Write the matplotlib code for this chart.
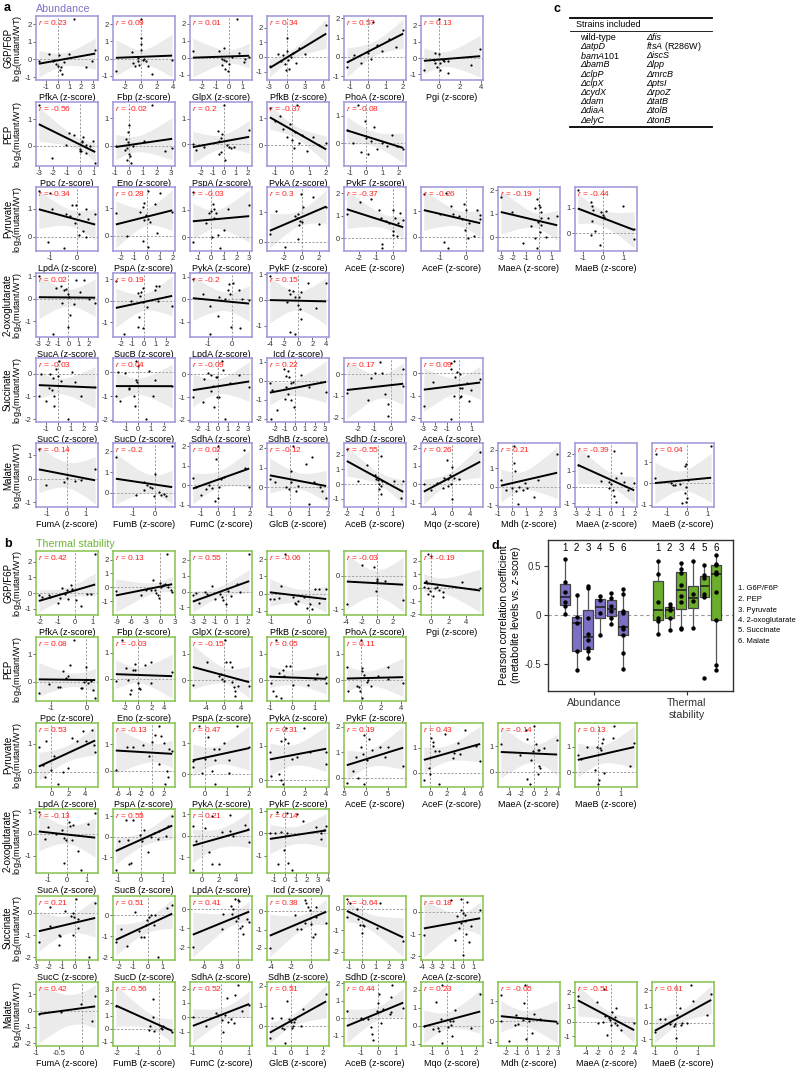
import numpy as np
import matplotlib
matplotlib.use('Agg')
import matplotlib.pyplot as plt

plt.rcParams['font.family'] = ['Liberation Sans', 'DejaVu Sans']
plt.rcParams['mathtext.fontset'] = 'custom'
plt.rcParams['mathtext.rm'] = 'Liberation Sans'
plt.rcParams['mathtext.it'] = 'Liberation Sans:italic'
plt.rcParams['mathtext.bf'] = 'Liberation Sans:bold'
plt.rcParams['axes.unicode_minus'] = False

# ---------------- data ----------------
metabolites = ['G6P/F6P', 'PEP', 'Pyruvate', '2-oxoglutarate', 'Succinate', 'Malate']

# ===== a: Abundance =====
A_G6P_names = ['PfkA', 'Fbp', 'GlpX', 'PfkB', 'PhoA', 'Pgi']
A_G6P_r = [0.23, 0.09, 0.01, 0.34, 0.57, 0.13]
A_G6P_x = [
    [1.4, -0.75, -1.6, -0.3, -0.1, 0.1, 0.2, 0.4, 0.3, 0.55, 1.0, 2.4, 2.9, 3.2, -0.4, 0.0],
    [0.0, -3.2, -1.1, -1.0, -0.8, -0.4, -0.25, 0.0, 0.0, 0.0, 0.2, 0.6, 0.85, 1.4, 0.4, 3.9, -0.4],
    [-2.7, 0.6, -0.75, -0.4, -0.55, -0.4, -0.25, -0.55, -0.3, -0.05, 0.0, 0.75, 1.2, 1.1, 1.5, 0.2],
    [-2.8, -1.5, -1.0, -0.6, -0.3, 0.0, 0.2, 0.4, 0.7, 1.0, 1.5, 2.0, 3.0, 6.5, 0.1, -0.2],
    [-1.2, -0.8, -0.4, 0.0, 0.2, 0.5, 0.8, 1.2, 1.6, 2.0, 0.3],
    [0.0, -1.4, -0.3, 0.05, -0.3, -0.15, 0.1, 0.15, 0.55, 0.85, 0.9, 3.1, 3.95, 0.45, -0.45],
]
A_G6P_y = [
    [2.3, 0.3, -0.1, -0.05, -0.25, 0.28, -0.6, -0.8, -0.45, -0.15, 0.3, -0.45, -0.1, 0.55, -0.1, -0.35],
    [2.3, -0.7, 0.4, -0.25, -0.45, -0.15, -0.35, 1.2, 0.85, 0.5, -0.05, -0.15, -0.45, -0.9, 0.0, -0.05, 0.05],
    [0.4, 2.3, 0.4, 0.6, -0.05, -0.15, -0.2, -0.45, -0.65, -0.8, -0.35, 0.3, -0.05, -0.25, 0.05, 0.05],
    [-0.6, 0.2, -0.3, 0.1, -0.5, 0.4, -0.2, -0.8, 0.0, 0.3, -0.4, 0.6, 0.2, 2.2, 1.3, -0.9],
    [-0.5, 0.1, -0.3, 0.2, -0.1, 0.6, 0.3, 0.9, 0.5, 1.4, 1.8],
    [2.4, -0.75, 0.3, 0.25, -0.3, -0.55, -0.3, -0.7, -0.2, -0.15, -0.9, -0.4, 0.55, -0.1, -0.1],
]

A_PEP_names = ['Ppc', 'Eno', 'PspA', 'PykA', 'PykF']
A_PEP_r = [-0.56, -0.02, 0.2, -0.37, -0.08]
A_PEP_x = [
    [-3.05, -2.1, -1.05, -0.8, -0.45, -0.05, 0.0, 0.05, 0.1, 0.2, 0.4, 0.45, 0.75, 1.1, 0.95, 0.15],
    [1.65, 0.0, -0.1, -0.25, -0.05, -0.12, 0.0, 0.1, -0.15, 0.15, -0.3, 1.05, 2.55, 3.1, -0.95, 0.25],
    [0.0, -0.55, -0.2, -0.3, -0.45, 0.2, 0.45, 0.55, 0.85, -0.25, 0.05, -0.45, 2.15, -1.7, -2.7, -2.4],
    [-1.3, -1.0, -0.7, -0.5, -0.3, -0.1, 0.0, 0.1, 0.2, 0.4, 0.6, 0.9, 1.2, 1.6, 2.0, 0.3],
    [-1.2, -0.8, -0.5, -0.3, 0.0, 0.1, 0.3, 0.5, 0.7, 1.0, 1.3, 1.6, 1.9, 2.3, -0.1],
]
A_PEP_y = [
    [1.55, -0.45, 0.05, 0.5, 0.4, -0.2, -0.1, -0.2, 0.15, 0.35, 0.05, -0.25, 0.0, -0.65, 0.2, 0.2],
    [1.5, 0.75, 0.5, 0.25, 0.12, -0.1, -0.3, -0.4, -0.55, -0.65, -0.15, 0.17, -0.22, -0.1, -0.03, 0.0],
    [1.55, 0.5, 0.38, 0.22, 0.12, -0.03, -0.1, -0.15, -0.1, -0.3, -0.65, -0.4, 0.55, -0.1, 0.0, -0.22],
    [1.4, 0.9, 1.1, 0.6, 0.3, 0.8, 0.2, -0.1, 0.5, 0.1, 0.4, -0.2, 0.3, 0.0, 0.1, 1.5],
    [0.5, 0.0, 1.4, -0.3, 0.2, -0.4, 0.1, 0.6, -0.2, 0.0, -0.1, 0.3, -0.1, -0.2, 0.8],
]

A_PYR_names = ['LpdA', 'PspA', 'PykA', 'PykF', 'AceE', 'AceF', 'MaeA', 'MaeB']
A_PYR_r = [-0.34, 0.28, -0.03, 0.3, -0.37, -0.26, -0.19, -0.44]
A_PYR_x = [
    [-1.0, -0.9, -0.18, -0.02, 0.06, -0.4, -0.24, -0.08, 0.32, 0.39, 0.67, 0.08, 0.24, 0.32, -1.05, -0.47, -1.4],
    [0.1, 1.0, -2.4, -1.5, -0.5, -0.3, -0.2, -0.05, 0.1, 0.2, -0.2, 0.65, 0.8, -0.3, 0.08, 1.95],
    [-1.45, 0.13, 0.26, 0.0, -0.2, 0.4, -0.4, 0.26, 0.53, 1.05, 1.3, -1.4, 0.66, 3.0, 0.05],
    [-2.9, -3.6, -1.9, -0.75, -0.57, -0.4, -0.2, 0.0, -0.1, 0.2, -0.45, 1.3, 2.0, 2.8, -0.25],
    [-2.7, -1.95, -1.3, -0.8, -0.7, -0.36, -0.23, 0.05, 0.15, 0.35, 0.45, 0.02, 0.05, 0.25, -0.6, -0.6, 0.63],
    [-1.6, -0.76, -0.58, -1.0, -0.5, -0.28, -0.14, -0.07, 0.0, 0.1, -0.03, 0.07, 0.3, 0.53, 0.53, 0.4, -0.83, -0.7],
    [-3.0, -2.15, -1.25, -0.63, -0.3, -0.13, 0.0, 0.08, 0.2, 0.16, -0.05, 0.08, -0.26, 0.6, 0.74, 1.47, -0.13, 0.2],
    [-1.25, -0.6, -0.57, -0.49, -0.57, -0.41, -0.6, -0.16, -0.08, 0.0, 0.16, 0.05, 0.98, 1.54, 1.54],
]
A_PYR_y = [
    [1.55, 0.98, 1.12, 1.15, 0.83, 0.83, 0.74, 0.48, 0.98, 0.64, 0.8, 0.08, 0.2, 0.0, -0.2, -0.4, 1.63],
    [1.63, 1.55, 0.83, -0.01, 0.88, 1.04, 1.2, 0.74, 0.6, 0.5, 0.56, 1.15, 0.12, -0.2, -0.4, 0.86],
    [1.65, 1.2, 1.04, 0.95, 0.88, 0.86, 0.5, 0.68, 0.08, 0.26, 1.04, -0.19, -0.4, 1.18, 0.0],
    [1.04, 0.26, -0.19, 0.88, 0.8, 0.95, 0.7, 0.68, 1.6, 1.18, 0.08, 1.5, 0.6, 1.18, 0.56],
    [1.05, 1.6, 1.75, 1.24, 0.9, 0.75, 0.67, 1.24, 0.9, 0.67, 1.1, 0.3, 0.15, 0.07, -0.25, -0.45, 0.82],
    [1.65, 1.7, 1.22, 0.91, 0.91, 0.8, 0.68, 1.26, 1.06, 0.55, 0.26, -0.04, 0.05, 0.87, 0.68, 1.06, -0.2, -0.43],
    [1.7, 1.08, -0.24, 0.5, 1.24, 1.62, 1.38, 1.27, 1.08, 0.84, 0.64, 0.23, -0.04, 0.03, 0.84, 0.9, -0.45, 0.54],
    [1.7, 1.23, 1.08, 0.91, 0.47, 0.09, -0.06, -0.44, 0.82, 0.72, 0.87, 0.66, 1.08, 0.19, -0.23],
]

A_OXO_names = ['SucA', 'SucB', 'LpdA', 'Icd']
A_OXO_r = [0.02, 0.19, -0.2, 0.15]
A_OXO_x = [
    [-2.97, -1.23, -0.73, -0.4, -0.23, -0.07, 0.1, -0.63, 0.6, 0.77, 1.17, 1.6, 2.03, 2.7, 0.17, -0.07, -1.57],
    [-2.45, -1.1, -0.53, -0.23, -0.3, -0.09, 0.26, -0.09, 1.09, 1.3, 1.0, 1.23, 2.5, -0.38, -0.53, -0.09, -1.77],
    [-1.67, -1.24, -0.91, -0.53, -0.29, -0.17, -0.06, -0.1, 0.06, 0.33, 0.47, 0.76, -0.57, -0.03, 0.37, -0.91],
    [-4.1, -1.33, -1.15, -0.71, -0.44, 0.09, 0.31, 0.0, 0.18, 1.33, 2.53, 4.0, 0.31, -1.15, -0.44, -1.69],
]
A_OXO_y = [
    [1.0, 0.49, 0.59, 0.4, 0.44, 0.22, 0.1, -0.19, -0.22, 0.84, 0.3, 0.84, 0.0, -0.19, -0.7, -1.26, -1.56],
    [0.9, 0.0, 0.37, 0.4, 0.22, -0.07, -0.3, 0.59, 0.7, 0.7, 0.49, -0.04, -0.25, -0.74, -1.23, -1.26, -1.56],
    [0.93, 0.25, -0.3, 0.1, 0.0, 0.4, 0.25, 0.7, 0.74, 0.4, 0.0, -0.04, -0.74, -1.26, -1.29, -1.56],
    [0.93, 0.4, 0.22, 0.34, 0.1, 0.1, 0.3, -0.19, -0.34, 0.67, -0.3, 0.64, -0.74, -1.26, -1.33, -0.07],
]

A_SUC_names = ['SucC', 'SucD', 'SdhA', 'SdhB', 'SdhD', 'AceA']
A_SUC_r = [-0.03, 0.04, -0.09, 0.22, 0.17, 0.09]
A_SUC_x = [
    [-1.58, -1.39, -0.68, -0.47, -0.16, 0.0, 0.18, 0.05, -0.74, -1.0, -0.53, -0.34, -0.34, 1.05, 1.32, 1.84, 0.79, 2.95],
    [-1.77, -1.56, -1.03, -0.77, -0.72, -0.33, -0.2, -0.08, -0.15, -0.03, 0.82, 1.28, 1.13, 0.62, -0.26, -1.44, 2.67],
    [-2.5, -1.5, -1.42, -0.97, -0.71, -0.45, -0.65, -0.23, -0.06, -0.13, 0.1, -0.39, 0.52, 0.42, 1.23, 2.13, 0.74, 3.1],
    [-2.5, -2.27, -1.07, -0.83, -0.67, -0.6, -0.4, -0.17, -0.83, -0.67, -0.33, -0.07, -1.0, 0.67, 1.4, 3.17, -1.73, -2.4],
    [-2.66, -1.4, -1.2, -0.96, -0.66, -0.52, -0.36, -0.2, -0.16, 0.74, 0.74],
    [-2.97, -2.24, -0.73, -0.41, -0.68, -0.35, -0.19, 0.08, -0.46, 0.08, 0.27, 0.08, 0.19, 0.62, 0.81, 0.95, -0.73, 1.76],
]
A_SUC_y = [
    [-1.0, 0.0, 0.0, -0.19, 0.18, -0.12, -0.34, 0.55, -0.64, -1.22, -0.72, -1.0, -1.42, 0.06, -0.39, -1.0, -1.99, -0.57],
    [-1.0, 0.0, -0.04, -0.64, -0.72, -1.0, -0.34, -0.42, 0.48, 0.25, 0.06, -0.34, -1.0, -1.97, -1.42, -1.22, -0.57],
    [-1.0, -1.22, -0.19, 0.06, -0.04, -0.49, -0.72, -0.09, -0.12, -1.0, -1.0, -1.42, 0.18, 0.6, -0.39, -0.04, -1.97, -0.57],
    [-0.14, -0.48, 0.6, 0.26, 0.52, 0.17, -0.14, -0.09, -0.34, -0.69, -1.03, -1.38, -0.95, 0.31, -0.34, -0.6, -1.55, -2.03],
    [-0.88, -1.19, -0.19, 0.06, 0.55, 0.03, -0.94, -1.39, -1.91, 0.25, -0.54],
    [-1.43, -0.39, 0.45, 0.55, 0.21, -0.15, 0.06, -0.04, -0.99, -0.64, -0.64, -1.04, -1.01, -0.42, -1.24, -0.72, -2.03, -0.27],
]

A_MAL_names = ['FumA', 'FumB', 'FumC', 'GlcB', 'AceB', 'Mqo', 'Mdh', 'MaeA', 'MaeB']
A_MAL_r = [-0.14, -0.2, 0.02, -0.12, -0.55, 0.26, 0.21, -0.39, 0.04]
A_MAL_x = [
    [-1.45, -1.05, 0.45, 0.75, 0.0, -0.12, 1.5],
    [-1.83, 0.83, -0.52, -0.36, -0.24, -0.12, 0.0, -0.48, 0.19, 0.43, 0.52, -0.05, 0.29, -0.9],
    [-1.53, -1.32, -1.02, -0.74, -0.53, -0.32, -0.1, 0.0, 0.1, 0.21, 0.04, 0.38, 1.66, 1.7, 1.96, -0.17],
    [-1.05, -0.8, -0.18, -0.05, 0.08, 0.08, 0.15, 0.32, 0.45, 0.82, 1.15, 1.0, 1.25, 1.58, 1.7, 1.9],
    [-2.03, -1.3, -0.7, -0.21, -0.09, 0.0, 0.09, 0.21, 0.21, 0.09, 0.21, 0.3, 1.06, 1.52, 1.67],
    [-6.2, -4.6, -3.2, -2.0, -1.84, -1.2, -0.8, -0.4, -0.24, 0.0, 0.0, 0.4, 1.6, 6.2, -0.8],
    [-0.82, -0.45, 0.0, 0.15, 0.15, 0.21, 0.24, 0.39, 0.45, 0.76, 0.91, 1.52, 1.82, 3.18, 1.06],
    [-2.83, -1.96, -0.87, -0.22, 0.0, 0.13, 0.22, 0.43, 0.22, 0.43, 0.87, 1.09, 1.43, 1.96, -0.22],
    [-1.58, -0.8, -0.7, -0.57, -0.32, -0.08, 0.0, -0.04, -0.26, -0.04, 0.06, -1.5, -0.05, 1.2, -0.1],
]
A_MAL_y = [
    [1.26, -0.28, -0.09, -0.05, 0.04, -0.14, 0.42],
    [1.72, 2.27, 0.5, 0.36, 0.29, 0.24, 0.9, 0.12, 0.03, -0.05, -0.14, -0.17, -0.1, -0.1],
    [0.39, -0.09, -0.48, -0.18, 0.0, -0.13, 1.36, 2.02, -0.09, 0.32, -0.63, 0.41, 1.79, 0.91, -0.09, -0.8],
    [0.4, 0.27, 0.0, -0.09, 0.27, 0.82, 2.1, -0.18, 0.09, 1.2, 1.55, -0.85, 0.27, 0.0, -0.2, -0.56],
    [2.4, 0.2, 1.3, 0.62, 0.35, 0.27, 0.0, 1.9, -0.1, -0.31, -0.69, 0.2, 0.2, -0.94, 0.2],
    [0.0, -0.33, 0.09, -0.19, 0.37, 1.33, 0.28, 0.52, 0.0, 0.93, -0.78, 0.37, 0.28, 1.76, -0.09],
    [0.34, -0.19, -0.09, 2.2, 1.3, 0.85, -0.22, -0.93, 0.0, -0.19, 0.19, -0.57, 0.37, 1.74, -0.09],
    [1.36, 1.9, 0.38, 0.28, 0.15, -0.19, 2.2, 0.56, -0.57, -0.95, 0.85, 0.28, -0.19, 0.23, -0.09],
    [0.26, 0.04, -0.09, -0.09, -0.04, -0.44, -0.7, -0.88, -0.91, -0.18, 0.14, 1.36, 0.9, 1.76, 0.8],
]

# ===== b: Thermal stability =====
T_G6P_names = ['PfkA', 'Fbp', 'GlpX', 'PfkB', 'PhoA', 'Pgi']
T_G6P_r = [0.42, 0.13, 0.55, -0.06, -0.03, -0.19]
T_G6P_x = [
    [-2.08, -1.92, -1.5, -1.42, -0.98, -0.85, -0.75, -0.6, -0.47, -0.38, -0.23, -0.15, 0.04, 0.34, 0.66, 0.9, 1.15],
    [1.4, -3.9, -2.95, -1.9, -1.5, -1.05, -0.8, -0.25, -0.5, 0.0, 0.57, 1.0, 1.6, 2.2, 2.45, 0.15, -9.2],
    [-3.04, -2.7, -2.48, -1.96, -1.74, -1.3, -0.96, -0.52, -0.35, -0.22, 0.0, 0.22, 1.09, 1.3, 2.17, 0.5],
    [-0.64, -0.73, -1.03, -0.91, -0.78, -0.42, -0.36, -0.3, -0.12, -0.05, 0.02, 0.09, 0.15, 0.25, 0.27, 0.45, -0.35],
    [-3.9, -1.96, -0.41, -0.08, 0.0, -0.2, 0.9, 3.27],
    [-0.4, 0.0, -0.53, -0.45, -0.82, -0.33, -0.12, -0.33, 0.2, 0.49, 0.9, 1.31, 1.31, 3.55, 5.59, 0.69],
]
T_G6P_y = [
    [-0.15, -0.25, -0.15, -0.25, -0.62, -0.29, 0.33, -0.04, 0.21, -0.35, 0.52, 0.27, -0.46, -0.83, -0.04, -0.04, 2.5],
    [2.4, -0.56, -0.15, -0.21, 0.54, -0.21, -0.42, -0.77, -0.56, 0.33, 0.21, 0.27, 0.06, -0.15, -0.29, 0.0, -0.25],
    [-0.21, -0.08, -0.71, -0.04, -0.15, 0.33, -0.46, -0.15, -0.35, -0.5, -0.77, 0.06, 0.48, -0.04, 2.4, -0.25],
    [2.3, 0.44, -0.33, -0.33, -0.25, -0.19, -0.52, -0.44, -0.19, -0.83, -0.63, -0.9, 0.25, 0.29, -0.52, 0.29, -0.63],
    [-0.83, 0.33, 0.27, -0.08, -0.14, -0.44, -0.14, -0.71],
    [2.5, 2.34, 0.52, 0.34, 0.02, -0.05, -0.27, -0.5, -0.61, -0.05, -0.16, -0.34, -0.73, 0.41, 0.0, 0.07],
]

T_PEP_names = ['Ppc', 'Eno', 'PspA', 'PykA', 'PykF']
T_PEP_r = [0.08, -0.03, -0.15, 0.05, 0.11]
T_PEP_x = [
    [-1.34, -1.04, -0.79, -0.75, -0.65, -0.56, -0.52, -0.45, -0.36, -0.15, -0.11, -0.06, 0.0, 0.0, 0.05, 0.12, 0.25, 0.18],
    [-3.4, -2.5, -1.8, -1.5, -1.15, -1.3, -0.8, -0.5, -0.4, 0.0, 0.1, 0.35, 1.1, 2.0, 2.0, 5.2],
    [-7.0, -3.76, -0.98, -0.53, -0.38, 0.0, 0.23, 0.53, 1.5, 1.88, 1.88, 2.26, 2.48, 2.63, 3.23, 5.78],
    [-1.01, -0.97, -0.87, -0.75, -0.72, -0.58, -0.43, -0.29, -0.36, -0.51, -0.12, 0.03, 0.7, 1.09, 1.01, 1.52, 1.52],
    [-1.43, -1.27, -0.43, -0.2, -0.1, 0.07, 0.13, 0.33, 0.57, 0.73, 1.0, 1.67, 2.67, 2.73, 4.23, 0.07, 0.0],
]
T_PEP_y = [
    [-0.41, -0.08, -0.2, -0.2, 0.4, 0.15, 0.21, 0.59, 1.52, -0.22, -0.22, -0.01, 0.05, 0.52, -0.04, 0.03, -0.6, -0.29],
    [-0.08, 1.5, 0.42, -0.04, -0.41, -0.58, 0.34, 0.59, 0.34, -0.16, -0.35, -0.38, 0.52, 0.65, -0.16, 0.25],
    [-0.16, 0.68, 0.18, 0.25, 0.05, -0.04, 1.52, 0.68, 0.68, 0.52, -0.08, -0.25, -0.41, -0.6, -0.22, -0.2],
    [0.18, -0.1, -0.41, 1.52, -0.58, 0.28, 0.4, 0.55, 0.15, -0.66, 0.55, -0.16, -0.16, 0.25, 0.05, -0.08, 0.12],
    [0.52, -0.41, -0.2, -0.25, -0.38, 0.34, 0.46, 0.21, -0.04, 0.03, -0.22, 0.15, 0.05, 0.52, -0.08, -0.66, 1.52],
]

T_PYR_names = ['LpdA', 'PspA', 'PykA', 'PykF', 'AceE', 'AceF', 'MaeA', 'MaeB']
T_PYR_r = [0.53, -0.13, 0.47, 0.31, 0.19, 0.43, -0.14, 0.13]
T_PYR_x = [
    [-1.5, -0.7, -1.0, 0.0, 0.29, 1.35, 1.92, 2.45, 2.98, 3.8, 4.1, 4.78, 5.1, 5.2, -0.8, 0.8],
    [-6.4, -4.4, -3.3, -1.7, -0.5, 0.0, 0.5, 1.1, 1.5, 2.0, 3.0, 3.5, 2.6, 2.7, 1.1, 2.2],
    [-0.53, -0.5, -0.26, 0.0, 0.15, 0.44, 0.47, 0.63, 0.87, 1.11, 1.11, 1.44, 2.0, -0.1, 0.31, 0.47],
    [-1.33, -1.23, -0.46, -0.28, -0.1, -0.28, 0.07, 0.25, 0.42, 0.77, 1.23, 1.93, 2.53, 4.04, 4.04],
    [-4.4, -3.0, -2.2, -1.14, -0.57, -0.33, 0.24, 0.65, 1.46, 3.25, 4.3, 5.1, 8.6, -1.8, -0.33],
    [-0.78, -0.19, 0.0, 0.12, 0.27, 0.27, 0.58, 0.97, 0.97, 1.74, 2.71, 2.83, 3.29, 3.49, 4.07, 5.43, 5.93],
    [-5.39, -2.29, -1.23, -1.07, -1.07, -0.53, -0.43, -0.16, 0.37, 0.64, 0.75, 0.91, 0.91, 1.07, 1.71, 3.84, 0.0],
    [-0.87, -0.75, -0.49, -0.14, -0.06, 0.04, 0.09, 0.12, 0.19, 0.23, 0.26, 0.0, 0.7, 0.67, 1.39, 1.57],
]
T_PYR_y = [
    [0.88, 1.09, 0.25, 0.04, 0.54, -0.02, 0.11, 1.19, 1.09, 1.44, 1.09, 1.5, 0.96, 0.69, -0.21, -0.45],
    [0.04, 0.91, 0.88, 0.96, 0.54, 1.09, 1.34, 1.69, 1.31, 1.06, 0.81, 0.75, 0.0, -0.25, 0.25, -0.5],
    [0.44, 0.25, 1.54, 0.5, 1.19, 0.81, 0.46, 0.81, 1.0, 0.46, 0.04, 1.54, 0.88, 0.04, 0.12, -0.31],
    [0.81, 0.12, 0.19, 0.0, -0.12, 1.16, 1.21, 1.54, 1.09, 0.62, 0.69, 1.54, 0.81, 0.46, 0.81],
    [-0.19, 0.25, 0.81, 1.19, 0.94, 1.66, 0.69, 1.5, 1.09, 1.19, 0.81, 1.19, 0.46, 0.0, -0.25],
    [-0.27, 0.2, -0.04, 1.37, 1.07, 1.24, 0.89, 0.87, -0.44, 1.56, 0.6, 0.8, 1.2, 0.76, 1.69, 1.07, 0.47],
    [1.07, 0.67, 1.64, 1.27, -0.27, -0.47, 0.47, 0.8, 1.07, 0.87, -0.07, 0.23, 0.84, 0.17, 0.93, 1.24, 1.77],
    [0.67, 0.53, 0.97, 0.07, 1.0, -0.31, 0.93, 0.87, 1.13, 1.29, -0.04, -0.47, 1.81, 1.33, 0.23, 1.13],
]

T_OXO_names = ['SucA', 'SucB', 'LpdA', 'Icd']
T_OXO_r = [-0.13, 0.55, 0.21, 0.14]
T_OXO_x = [
    [-1.15, -0.97, -0.56, -0.26, -0.17, -0.09, 0.09, 0.12, 0.22, 0.29, 0.56, -0.15, 0.68, 1.03, 1.42, -1.45],
    [-1.12, -0.97, -0.64, -0.55, -0.52, -0.45, -0.34, -0.04, 0.04, 0.15, 0.34, 0.45, 0.6, 0.79, 0.82, 1.12, 1.24, 1.42],
    [-1.11, -0.76, -1.11, 0.31, 0.76, 1.11, 1.2, 2.0, 2.36, 3.24, 3.33, 3.69, 5.1, 5.46, 5.56],
    [-1.35, -0.91, -0.7, -0.62, -0.32, -0.09, 0.06, 0.18, 0.26, 0.35, 0.65, 1.15, 1.65, 2.91, 3.3, 3.35, 3.59, 3.8],
]
T_OXO_y = [
    [-0.23, 0.3, 0.0, 0.18, -0.18, -0.3, 0.53, 0.33, -0.27, 0.38, -0.76, -1.33, -1.64, 0.45, 0.94, 0.98],
    [-1.63, -0.2, 0.83, -0.17, -1.33, -1.3, 0.83, 0.08, -0.2, 0.33, -0.75, 0.0, 0.2, -0.13, 0.25, 0.03, 0.5, 1.0],
    [-1.59, -0.26, 0.47, 0.37, -0.74, 0.91, -1.32, -1.29, 0.15, 0.22, 0.96, -0.03, 0.51, 0.32, -0.29],
    [0.0, 0.0, 0.94, -1.36, 0.03, -0.76, -0.15, 0.91, 0.0, -1.33, -1.64, 0.83, 0.53, 0.27, 0.0, -0.27, 0.12, 0.3],
]

T_SUC_names = ['SucC', 'SucD', 'SdhA', 'SdhB', 'SdhD', 'AceA']
T_SUC_r = [0.21, 0.51, 0.41, 0.38, -0.64, 0.18]
T_SUC_x = [
    [-2.82, -1.95, -1.95, -1.28, -1.18, -1.28, -0.77, -0.33, -0.2, -0.08, -0.15, 0.05, 0.18, 0.18, 1.03, 1.54],
    [-2.22, -1.89, -1.44, -0.89, -0.62, -0.49, -0.27, -0.11, -0.04, 0.04, 0.18, 0.49, 0.4, 0.67, 1.29, 1.67],
    [-7.93, -2.59, -2.87, -1.15, -0.86, -1.03, -0.57, -0.29, 0.0, 0.11, 0.29, 0.46, 0.69, 0.86, 1.61, 2.01],
    [-4.1, -1.64, -1.38, -1.05, -0.66, -0.49, -0.33, -0.59, -0.16, -0.16, 0.0, 0.16, 0.33, 0.49, 1.48, 0.49],
    [-1.18, -1.18, -0.93, -0.43, -0.35, -0.18, -0.05, 0.07, 0.15, 1.07, 1.32, 3.07],
    [-3.8, -1.17, -0.79, -0.54, -0.41, -0.22, -0.16, 0.0, 0.0, 0.16, 0.22, 0.32, 0.41, 0.63, 0.79, 1.68, -0.22],
]
T_SUC_y = [
    [-1.3, 0.26, -0.61, -1.0, -1.03, -1.43, 0.08, -0.15, 0.0, -0.2, -1.0, 0.62, -0.26, -0.69, -2.0, 0.46],
    [-1.3, -0.66, -1.46, 0.15, -0.77, -1.03, -1.03, -0.46, -0.23, -0.08, 0.0, 0.0, -0.46, -2.0, 0.35, 0.46],
    [-2.0, -0.27, -1.02, 0.18, 0.0, -0.23, 0.54, -0.63, -0.48, 0.48, 0.41, -0.98, -0.89, -1.3, -0.54, -0.66],
    [-2.0, -0.21, -0.96, -0.96, 0.61, 0.44, 0.26, -0.61, -0.35, 0.09, -0.7, -1.4, -1.23, -0.32, -0.61, 0.26],
    [0.47, -0.39, 0.27, 0.0, -0.47, -0.74, -1.1, -0.74, -0.79, -0.87, 0.27, -1.5],
    [-1.03, 0.53, -1.25, -0.2, -0.72, 0.58, -0.52, -0.05, -1.94, -0.13, -0.41, -0.98, 0.42, -1.38, -0.63, 0.06, 0.06],
]

T_MAL_names = ['FumA', 'FumB', 'FumC', 'GlcB', 'AceB', 'Mqo', 'Mdh', 'MaeA', 'MaeB']
T_MAL_r = [0.42, -0.56, 0.52, 0.51, 0.44, 0.23, -0.05, -0.51, 0.61]
T_MAL_x = [
    [-0.94, -0.45, -0.03, 0.22, 0.28],
    [-2.05, -0.27, -0.27, -0.39, -0.44, -0.23, 0.1, 0.21, 0.16, 0.65],
    [-1.0, -0.51, -0.16, -0.08, 0.03, 0.08, 0.14, 0.22, 0.27, 0.38, 0.51, 0.62, 0.47, 0.77, 1.02],
    [-1.31, -1.17, -0.63, -0.54, -0.42, -0.33, -0.21, -0.13, 0.0, 0.08, 0.15, 0.21, 0.29, 0.63, 0.77, 2.23],
    [-1.83, -1.0, -0.87, -0.58, -0.42, -0.35, -0.29, -0.1, 0.0, 0.04, 0.15, 0.29, 0.67, 0.73, 0.73, 0.81, 1.44],
    [-1.56, -0.96, -0.73, -0.6, -0.51, -0.38, -0.33, 0.11, 0.22, 0.29, 0.38, 0.44, 0.6, 1.67, 2.29, -0.33],
    [-2.54, -2.48, -1.78, -1.21, -1.05, -0.89, -0.41, -0.32, -0.19, 0.0, 0.22, 0.44, 0.7, 1.27, 2.92, -0.1],
    [-5.35, -2.3, -2.03, -1.23, -0.96, -0.53, -0.32, -0.16, 0.0, 0.21, 0.64, 0.91, 0.75, 1.07, 1.71, 3.85, -1.07],
    [-0.99, -0.75, -0.54, -0.3, -0.12, -0.05, 0.0, 0.03, 0.15, 0.21, 0.26, 0.51, 0.66, 0.75, 1.41, 1.61],
]
T_MAL_y = [
    [-0.2, -0.08, 0.43, -0.64, 0.91],
    [1.75, 2.33, 0.93, 0.23, -0.12, -0.19, 0.05, 0.23, -0.05, -0.28],
    [0.0, -0.58, 0.31, 0.17, -0.17, -1.0, 0.17, 1.35, -0.31, -0.1, 1.56, 2.25, -0.42, 0.42, 0.83],
    [-0.56, 0.41, 0.41, -0.09, -0.15, -0.83, 1.26, 0.37, 0.19, -0.09, 0.0, 0.22, 0.37, 0.0, 0.83, 1.57],
    [0.43, 0.0, -0.04, -0.04, -0.48, -0.91, -1.24, 0.39, 0.87, 1.37, -0.26, 0.5, 0.22, 0.35, 1.22, 1.91, 0.61],
    [0.0, -0.19, 1.32, -0.13, -0.28, 0.38, -0.94, -0.06, 0.25, 0.06, -0.57, 0.28, 0.89, -0.13, 1.75, 2.26],
    [1.32, 0.0, -0.94, -0.19, 0.32, -0.13, 0.09, 0.89, 1.79, 0.19, 0.0, -0.57, 0.38, 0.13, -0.06, -0.85],
    [1.77, 1.34, -0.11, 0.0, 0.36, -0.91, 0.21, 0.11, -0.21, 0.64, 0.28, 0.91, -0.11, -0.21, -0.57, -0.11, 2.2],
    [-0.54, 0.26, 0.26, -0.08, -0.2, -0.08, -0.94, 0.46, 0.92, -0.14, 0.0, 0.0, 2.32, 1.36, 0.46, 1.76],
]

# ===== c: strains table =====
strains_col1 = ['wild-type', 'ΔatpD', 'bamA101', 'ΔbamB', 'ΔclpP', 'ΔclpX', 'ΔcydX', 'Δdam', 'ΔdiaA', 'ΔelyC']
strains_col2 = ['Δfis', 'ftsA (R286W)', 'ΔiscS', 'Δlpp', 'ΔmrcB', 'ΔptsI', 'ΔrpoZ', 'ΔtatB', 'ΔtolB', 'ΔtonB']

# ===== d =====
box_groups = ['Abundance', 'Thermal\nstability']

# ---------------- drawing ----------------
FW, FH = 800, 1071
fig = plt.figure(figsize=(FW / 100, FH / 100), dpi=100)

PURPLE_EDGE = '#9D96D8'
PURPLE_TXT = '#7D72C8'
PURPLE_FILL = '#7B70C6'
GREEN_EDGE = '#86C24A'
GREEN_TXT = '#6DB33A'
GREEN_FILL = '#6BAE2C'

T975 = [12.71, 4.30, 3.18, 2.78, 2.57, 2.45, 2.36, 2.31, 2.26, 2.23, 2.20, 2.18,
        2.16, 2.14, 2.13, 2.12, 2.11, 2.10, 2.09, 2.09]


def extended_breaks(dmin, dmax, m=5):
    """Talbot's extended tick algorithm; whole-number, aligned steps once the span allows."""
    Q = [1, 5, 2, 4, 3]
    w = [0.25, 0.2, 0.5, 0.05]
    nQ = len(Q)
    eps = 1e-10
    rng = dmax - dmin
    min_step = 1.0 if rng >= 1.5 else 0.0
    best_score = -2.0
    best = None
    j = 1
    while j < 50:
        stop_all = False
        for qi, q in enumerate(Q):
            sm = 2 - qi / (nQ - 1) - j
            if w[0] * sm + w[1] + w[2] + w[3] < best_score:
                stop_all = True
                break
            k = 2
            while k < 50:
                dm = 2 - (k - 1) / (m - 1) if k >= m else 1
                if w[0] * sm + w[1] + w[2] * dm + w[3] < best_score:
                    break
                delta = rng / (k + 1) / j / q
                z = int(np.ceil(np.log10(delta)))
                while z < 20:
                    step = j * q * 10.0 ** z
                    span = step * (k - 1)
                    if span > rng:
                        half = (span - rng) / 2
                        cm = 1 - 0.5 * (2 * half ** 2) / ((0.1 * rng) ** 2)
                    else:
                        cm = 1
                    if w[0] * sm + w[1] * cm + w[2] * dm + w[3] < best_score:
                        break
                    if step >= min_step - 1e-12:
                        min_start = int(np.floor(dmax / step)) * j - (k - 1) * j
                        max_start = int(np.ceil(dmin / step)) * j
                        for start in range(min_start, max_start + 1):
                            lmin = start * (step / j)
                            lmax = lmin + step * (k - 1)
                            rem = lmin % step
                            aligned = (rem < 1e-9 or step - rem < 1e-9)
                            if not aligned:
                                continue
                            v = 1 if (lmin <= 0 <= lmax) else 0
                            s = 1 - qi / (nQ - 1) - j + v
                            c = 1 - 0.5 * ((dmax - lmax) ** 2 + (dmin - lmin) ** 2) / ((0.1 * rng) ** 2)
                            r_ = (k - 1) / (lmax - lmin)
                            rt = (m - 1) / (max(lmax, dmax) - min(dmin, lmin))
                            g = 2 - max(r_ / rt, rt / r_)
                            score = w[0] * s + w[1] * c + w[2] * g + w[3]
                            if score > best_score:
                                best_score = score
                                best = (lmin, lmax, step)
                    z += 1
                k += 1
        if stop_all:
            break
        j += 1
    lmin, lmax, step = best
    ticks = np.arange(lmin, lmax + step * 0.5, step)
    ticks = np.round(ticks, 10)
    return ticks[(ticks >= dmin - 1e-9) & (ticks <= dmax + 1e-9)]


def fmt(v):
    s = f'{v:g}'
    return '0' if s == '-0' else s


def rect(l, t, w, h):
    return [l / FW, 1 - (t + h) / FH, w / FW, h / FH]


def ftext(x, y, s, **kw):
    fig.text(x / FW, 1 - y / FH, s, **kw)


def panel(l, t, xs, ys, name, r, edge):
    ax = fig.add_axes(rect(l, t, 62, 64))
    x = np.asarray(xs, float)
    y = np.asarray(ys, float)
    n = len(x)
    slope, icpt = np.polyfit(x, y, 1)
    xg = np.linspace(x.min(), x.max(), 100)
    fit = icpt + slope * xg
    res = y - (icpt + slope * x)
    s = np.sqrt(np.sum(res ** 2) / (n - 2))
    sxx = np.sum((x - x.mean()) ** 2)
    se = s * np.sqrt(1.0 / n + (xg - x.mean()) ** 2 / sxx)
    tq = T975[min(n - 2, len(T975)) - 1]
    lo, hi = fit - tq * se, fit + tq * se
    ax.axhline(0, color='#8a8a8a', lw=0.6, ls=(0, (2.5, 2)), zorder=1)
    ax.axvline(0, color='#8a8a8a', lw=0.6, ls=(0, (2.5, 2)), zorder=1)
    ax.fill_between(xg, lo, hi, color='#BDBDBD', alpha=0.3, lw=0, zorder=2)
    ax.plot(xg, fit, color='black', lw=1.4, zorder=3, solid_capstyle='butt')
    ax.scatter(x, y, s=2.5, c='black', lw=0, zorder=4)
    x0, x1 = min(x.min(), 0), max(x.max(), 0)
    y0, y1 = min(y.min(), lo.min(), 0), max(y.max(), hi.max(), 0)
    dx, dy = (x1 - x0) * 0.05, (y1 - y0) * 0.05
    xl = (x0 - dx, x1 + dx)
    yl = (y0 - dy, y1 + dy)
    ax.set_xlim(*xl)
    ax.set_ylim(*yl)
    xt = extended_breaks(*xl)
    yt = extended_breaks(*yl)
    ax.set_xticks(xt)
    ax.set_xticklabels([fmt(v) for v in xt])
    ax.set_yticks(yt)
    ax.set_yticklabels([fmt(v) for v in yt])
    ax.tick_params(labelsize=5.5, length=2, width=0.5, pad=1, colors='#333333')
    for sp in ax.spines.values():
        sp.set_color(edge)
        sp.set_linewidth(1.1)
    ax.text(0.04, 0.97, f'$r$ = {r:g}', transform=ax.transAxes, ha='left', va='top',
            color='#FF2222', fontsize=6, zorder=5)
    ax.set_xlabel(f'{name} (z-score)', fontsize=6.5, labelpad=1.5)
    return ax


A_rows = [(A_G6P_names, A_G6P_r, A_G6P_x, A_G6P_y), (A_PEP_names, A_PEP_r, A_PEP_x, A_PEP_y),
          (A_PYR_names, A_PYR_r, A_PYR_x, A_PYR_y), (A_OXO_names, A_OXO_r, A_OXO_x, A_OXO_y),
          (A_SUC_names, A_SUC_r, A_SUC_x, A_SUC_y), (A_MAL_names, A_MAL_r, A_MAL_x, A_MAL_y)]
T_rows = [(T_G6P_names, T_G6P_r, T_G6P_x, T_G6P_y), (T_PEP_names, T_PEP_r, T_PEP_x, T_PEP_y),
          (T_PYR_names, T_PYR_r, T_PYR_x, T_PYR_y), (T_OXO_names, T_OXO_r, T_OXO_x, T_OXO_y),
          (T_SUC_names, T_SUC_r, T_SUC_x, T_SUC_y), (T_MAL_names, T_MAL_r, T_MAL_x, T_MAL_y)]

a_tops = [16, 102, 187, 273, 358, 443]
b_tops = [551, 637, 723, 809, 896, 982]

for rows, tops, edge in [(A_rows, a_tops, PURPLE_EDGE), (T_rows, b_tops, GREEN_EDGE)]:
    for i, (names, rs, xs, ys) in enumerate(rows):
        t = tops[i]
        for k in range(len(names)):
            panel(36 + 77 * k, t, xs[k], ys[k], names[k], rs[k], edge)
        ftext(8, t + 32, metabolites[i], rotation=90, ha='center', va='center', fontsize=7)
        ftext(17.5, t + 32, 'log$_2$(mutant/WT)', rotation=90, ha='center', va='center', fontsize=6.5)

# section labels
ftext(4, 8, 'a', fontsize=9, fontweight='bold', va='center')
ftext(36, 9, 'Abundance', fontsize=7.7, color=PURPLE_TXT, va='center')
ftext(4, 544, 'b', fontsize=9, fontweight='bold', va='center')
ftext(36, 544, 'Thermal stability', fontsize=7.7, color=GREEN_TXT, va='center')
ftext(553, 9, 'c', fontsize=9, fontweight='bold', va='center')
ftext(492, 546, 'd', fontsize=9, fontweight='bold', va='center')

# ---- c: table ----
axo = fig.add_axes([0, 0, 1, 1], zorder=-1)
axo.set_xlim(0, FW)
axo.set_ylim(FH, 0)
axo.axis('off')
axo.plot([570, 712], [18, 18], color='black', lw=1.3)
axo.plot([570, 712], [31, 31], color='black', lw=0.6)
axo.plot([570, 712], [127, 127], color='black', lw=1.3)
axo.text(576, 24.5, 'Strains included', fontsize=6.5, va='center')


def strain_label(s):
    if s.startswith('Δ'):
        return s, 'italic'
    if s == 'bamA101':
        return r'$\mathit{bamA}$101', 'normal'
    if s.startswith('ftsA'):
        return r'$\mathit{ftsA}$' + s[4:], 'normal'
    return s, 'normal'


for i, (s1, s2) in enumerate(zip(strains_col1, strains_col2)):
    yy = 37.3 + 9.2 * i
    for xx, s in [(580, s1), (646, s2)]:
        txt, st = strain_label(s)
        axo.text(xx, yy, txt, fontsize=6.5, va='center', fontstyle=st)

# ---- d: box plot ----
axd = fig.add_axes(rect(548, 540, 185, 151))
r_groups = [[A_G6P_r, A_PEP_r, A_PYR_r, A_OXO_r, A_SUC_r, A_MAL_r],
            [T_G6P_r, T_PEP_r, T_PYR_r, T_OXO_r, T_SUC_r, T_MAL_r]]
fills = [PURPLE_FILL, GREEN_FILL]
axd.axhline(0, color='#999999', lw=0.8, ls=(0, (3, 2.5)), zorder=0)
for g, groups in enumerate(r_groups):
    for k, vals in enumerate(groups):
        pos = g + 1 + (k - 2.5) * 0.125
        axd.boxplot([vals], positions=[pos], widths=0.105, patch_artist=True, showfliers=False,
                    whis=1.5, manage_ticks=False,
                    medianprops=dict(color='#222222', lw=1.2),
                    boxprops=dict(facecolor=fills[g], edgecolor='#444444', lw=0.9),
                    whiskerprops=dict(color='#555555', lw=0.9),
                    capprops=dict(lw=0))
        axd.scatter([pos] * len(vals), vals, s=10, c='black', lw=0, zorder=3)
        axd.text(pos, 0.68, str(k + 1), ha='center', va='center', fontsize=7)
axd.set_xlim(0.505, 2.495)
axd.set_ylim(-0.776, 0.765)
axd.set_xticks([1, 2])
axd.set_xticklabels(box_groups, fontsize=7.7)
axd.set_yticks([-0.5, 0, 0.5])
axd.set_yticklabels(['-0.5', '0', '0.5'], fontsize=7)
axd.tick_params(length=3, width=0.8, colors='#333333', pad=2)
for sp in axd.spines.values():
    sp.set_color('#333333')
    sp.set_linewidth(1.0)
ftext(504, 615, 'Pearson correlation coefficient', rotation=90, ha='center', va='center', fontsize=7.5)
ftext(516, 615, '(metabolite levels vs. $\\mathit{z}$-score)', rotation=90, ha='center', va='center', fontsize=7.5)

for i, m in enumerate(metabolites):
    ftext(738, 589 + 10.5 * i, f'{i + 1}. {m}', fontsize=5.5, va='center')

fig.savefig('out.png', dpi=100)
